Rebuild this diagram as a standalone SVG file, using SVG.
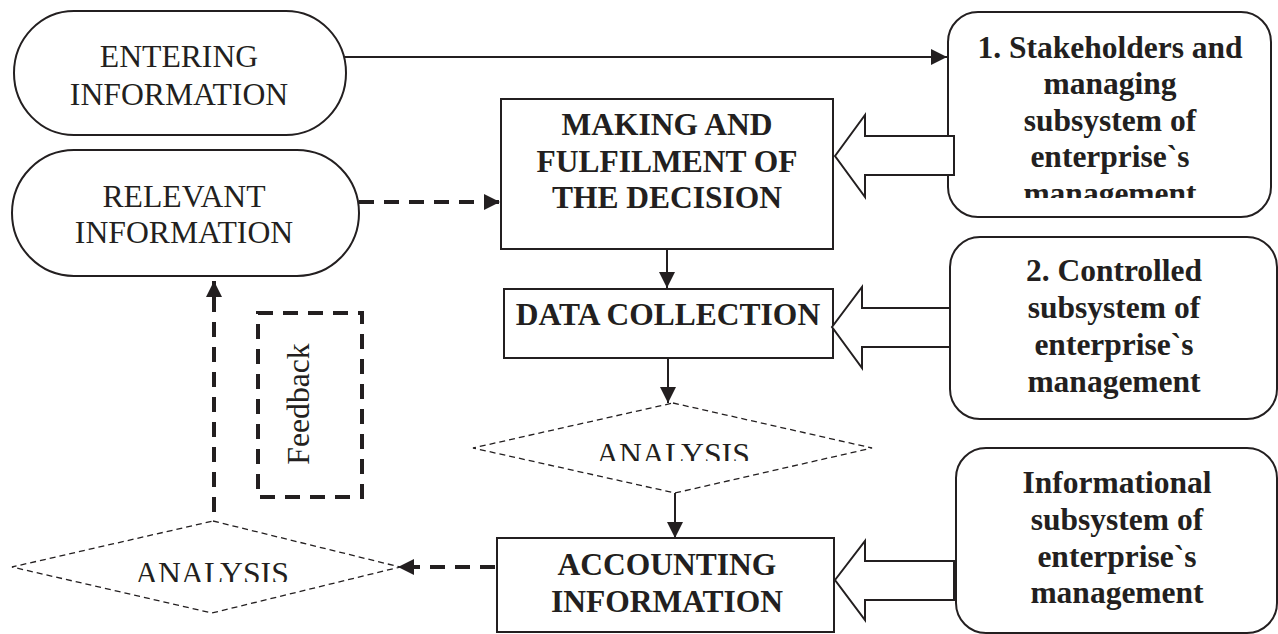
<svg xmlns="http://www.w3.org/2000/svg" width="1278" height="634" viewBox="0 0 1278 634">
  <style>
    .shape { fill: #ffffff; stroke: #231f20; stroke-width: 2; }
    .thin-dash { fill: #ffffff; stroke: #231f20; stroke-width: 1.3; stroke-dasharray: 6 4; }
    .bold-dash { fill: none; stroke: #231f20; stroke-width: 4; stroke-dasharray: 15 10; }
    .line { fill: none; stroke: #231f20; stroke-width: 2; }
    .reg { font-family: "Liberation Serif", "Times New Roman", serif; font-size: 31.7px; fill: #231f20; text-anchor: middle; }
    .bold { font-family: "Liberation Serif", "Times New Roman", serif; font-size: 31.5px; font-weight: bold; fill: #231f20; text-anchor: middle; }
  </style>
  <defs>
    <marker id="head" viewBox="0 0 16 16" refX="16" refY="8" markerWidth="16" markerHeight="16" markerUnits="userSpaceOnUse" orient="auto">
      <path d="M0,0 L16,8 L0,16 Z" fill="#231f20"/>
    </marker>
    <clipPath id="clipAnalysisMid"><rect x="470" y="400" width="410" height="61"/></clipPath>
    <clipPath id="clipAnalysisLeft"><rect x="0" y="515" width="410" height="67"/></clipPath>
    <clipPath id="clipBox1"><rect x="940" y="0" width="338" height="198"/></clipPath>
  </defs>

  <rect width="1278" height="634" fill="#ffffff"/>

  <!-- connectors -->
  <g id="connectors">
    <line class="line" x1="338" y1="57" x2="947" y2="57" marker-end="url(#head)"/>
    <line class="bold-dash" x1="359" y1="202" x2="500" y2="202" marker-end="url(#head)"/>
    <line class="line" x1="667" y1="249" x2="667" y2="288" marker-end="url(#head)"/>
    <line class="line" x1="668" y1="358" x2="668" y2="403" marker-end="url(#head)"/>
    <line class="line" x1="675" y1="493" x2="675" y2="538" marker-end="url(#head)"/>
    <line class="bold-dash" x1="495" y1="567" x2="398" y2="567" marker-end="url(#head)"/>
    <line class="bold-dash" x1="214" y1="512" x2="214" y2="281" marker-end="url(#head)"/>
  </g>

  <g id="entering-information">
    <rect class="shape" x="14" y="11" width="332" height="124" rx="60" ry="62"/>
    <text class="reg" x="179" y="67">ENTERING</text>
    <text class="reg" x="179" y="105">INFORMATION</text>
  </g>

  <g id="relevant-information">
    <rect class="shape" x="12" y="150" width="347" height="126" rx="62" ry="63"/>
    <text class="reg" x="184" y="207">RELEVANT</text>
    <text class="reg" x="184" y="243">INFORMATION</text>
  </g>

  <g id="making-decision">
    <rect class="shape" x="501" y="99" width="332" height="150"/>
    <text class="bold" x="667" y="135">MAKING AND</text>
    <text class="bold" x="667" y="172">FULFILMENT OF</text>
    <text class="bold" x="667" y="208">THE DECISION</text>
  </g>

  <g id="data-collection">
    <rect class="shape" x="504" y="289" width="329" height="69"/>
    <text class="bold" x="668" y="325">DATA COLLECTION</text>
  </g>

  <g id="analysis-middle">
    <polygon class="thin-dash" points="673,403 872,448 675,493 473,448"/>
    <text class="reg" x="673" y="465" clip-path="url(#clipAnalysisMid)">ANALYSIS</text>
  </g>

  <g id="accounting-information">
    <rect class="shape" x="497" y="538" width="337" height="94"/>
    <text class="bold" x="667" y="575">ACCOUNTING</text>
    <text class="bold" x="667" y="612">INFORMATION</text>
  </g>

  <g id="analysis-left">
    <polygon class="thin-dash" points="213,521 400,567 212,613 12,567"/>
    <text class="reg" x="212" y="584" clip-path="url(#clipAnalysisLeft)">ANALYSIS</text>
  </g>

  <g id="feedback">
    <rect class="bold-dash" x="258" y="313" width="104" height="184"/>
    <text class="reg" transform="translate(309,404) rotate(-90)" x="0" y="0">Feedback</text>
  </g>

  <g id="stakeholders-subsystem">
    <rect class="shape" x="948" y="12" width="323" height="205" rx="30" ry="30"/>
    <g clip-path="url(#clipBox1)">
      <text class="bold" x="1110" y="58">1. Stakeholders and</text>
      <text class="bold" x="1110" y="94">managing</text>
      <text class="bold" x="1110" y="131">subsystem of</text>
      <text class="bold" x="1110" y="167">enterprise`s</text>
      <text class="bold" x="1110" y="204">management</text>
    </g>
  </g>

  <g id="controlled-subsystem">
    <rect class="shape" x="950" y="237" width="327" height="182" rx="30" ry="30"/>
    <text class="bold" x="1114" y="281">2. Controlled</text>
    <text class="bold" x="1114" y="318">subsystem of</text>
    <text class="bold" x="1114" y="355">enterprise`s</text>
    <text class="bold" x="1114" y="392">management</text>
  </g>

  <g id="informational-subsystem">
    <rect class="shape" x="956" y="448" width="321" height="185" rx="30" ry="30"/>
    <text class="bold" x="1117" y="493">Informational</text>
    <text class="bold" x="1117" y="530">subsystem of</text>
    <text class="bold" x="1117" y="567">enterprise`s</text>
    <text class="bold" x="1117" y="603">management</text>
  </g>

  <!-- hollow block arrows from subsystems -->
  <g id="block-arrows">
    <polygon class="shape" points="835,156 865,115 865,136 954,136 954,175 865,175 865,197"/>
    <polygon class="shape" points="832,327 862,287 862,308 950,308 950,347 862,347 862,368"/>
    <polygon class="shape" points="835,580 865,541 865,561 954,561 954,600 865,600 865,620"/>
  </g>
</svg>
